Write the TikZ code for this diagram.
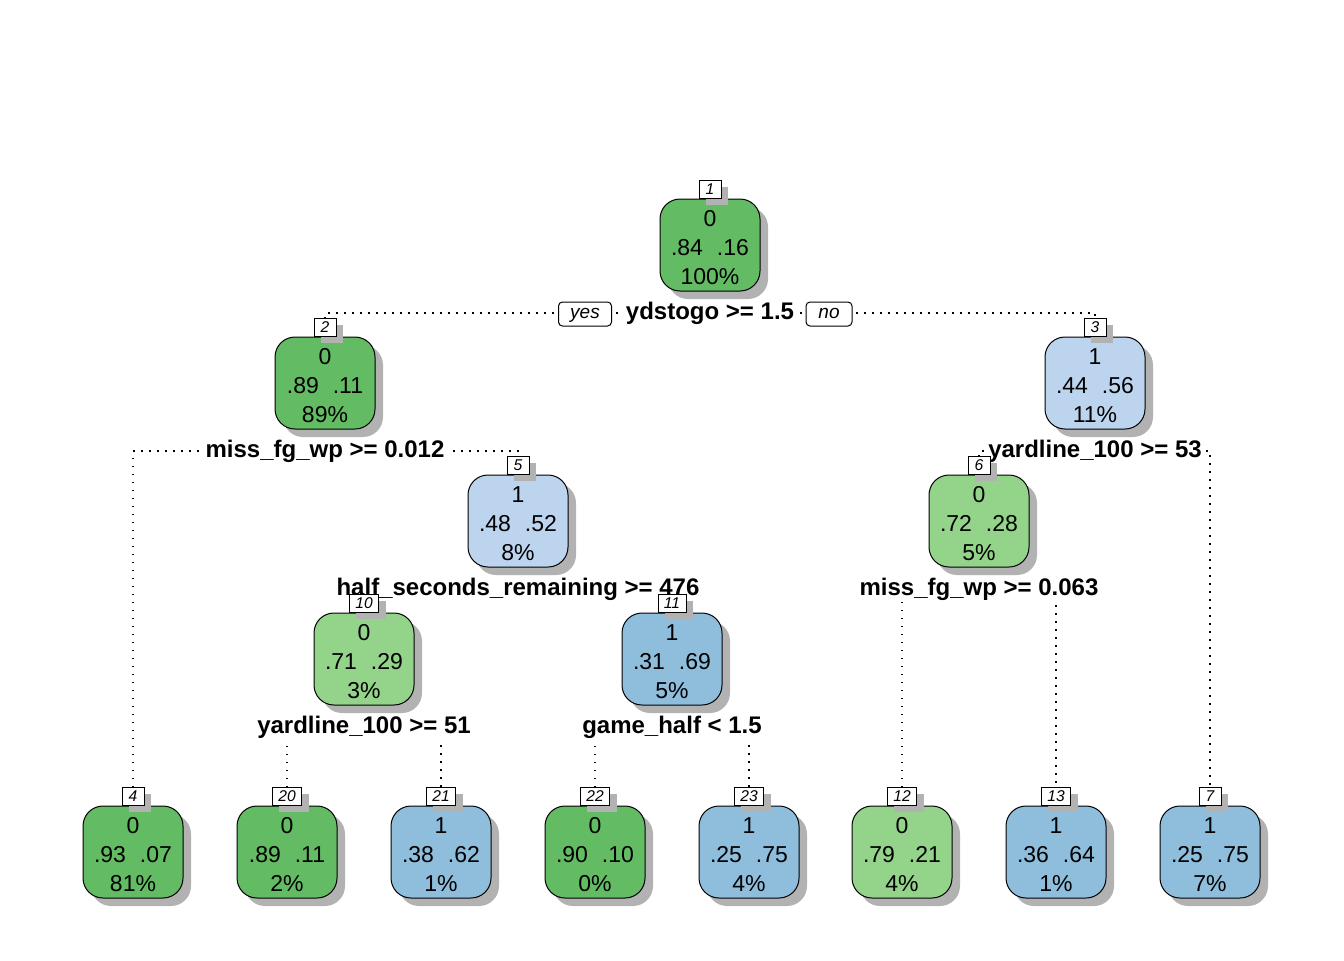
\documentclass[tikz,border=0pt]{standalone}
\usepackage{fontspec}
\setmainfont{Liberation Sans}
\usetikzlibrary{shadows}
\pgfdeclarelayer{bg}
\pgfsetlayers{bg,main}

\definecolor{gdark}{HTML}{63BB63}
\definecolor{glight}{HTML}{93D38A}
\definecolor{blight}{HTML}{BDD4EE}
\definecolor{bmid}{HTML}{8FBEDC}

\tikzset{
  tbox/.style={draw, line width=0.5pt, rounded corners=10pt,
    minimum width=50pt, minimum height=46pt, inner sep=0pt, align=center,
    font=\fontsize{11.5}{14.5}\selectfont,
    drop shadow={shadow xshift=4pt, shadow yshift=-4pt, fill=black!30, opacity=1}},
  numbox/.style={draw, fill=white, line width=0.4pt, inner xsep=3pt, inner ysep=0pt,
    minimum width=11pt, minimum height=9pt,
    font=\fontsize{7.8}{9}\selectfont\itshape,
    drop shadow={shadow xshift=3.5pt, shadow yshift=-3.5pt, fill=black!30, opacity=1}},
  splitlab/.style={fill=white, inner xsep=1.5pt, inner ysep=0.5pt,
    text height=8.8pt, text depth=2.6pt,
    font=\fontsize{12}{13.5}\selectfont\bfseries},
  ynbox/.style={draw, fill=white, rounded corners=2pt, line width=0.5pt,
    minimum height=12pt, inner sep=0pt, text height=6.5pt, text depth=2pt,
    font=\fontsize{9.5}{11}\selectfont\itshape},
  edge/.style={line width=0.6pt, dash pattern=on 0.6pt off 3.4pt}
}

% class, the two class probabilities, and the share of observations
\newcommand{\nodetext}[4]{\rule{0pt}{10.4pt}#1\\#2\hspace{7pt}#3\\#4}

\begin{document}
\begin{tikzpicture}[x=0.5pt, y=-0.5pt]
\useasboundingbox (0,0) rectangle (1344,960);

% split labels
\node[splitlab] (s1)  at (710,313) {ydstogo >= 1.5};
\node[splitlab] (s2)  at (325,451) {miss\_fg\_wp >= 0.012};
\node[splitlab] (s3)  at (1095,451) {yardline\_100 >= 53};
\node[splitlab] (s5)  at (518,589) {half\_seconds\_remaining >= 476};
\node[splitlab] (s6)  at (979,589) {miss\_fg\_wp >= 0.063};
\node[splitlab] (s10) at (364,727) {yardline\_100 >= 51};
\node[splitlab] (s11) at (672,727) {game\_half < 1.5};

% yes / no tags on the root split
\node[ynbox, minimum width=26.5pt] (yes) at (585,314) {yes};
\node[ynbox, minimum width=23pt]   (no)  at (829,314) {no};

% tree nodes
\node[tbox, fill=gdark]  (n1)  at (710,245) {\nodetext{0}{.84}{.16}{100\%}};
\node[tbox, fill=gdark]  (n2)  at (325,383) {\nodetext{0}{.89}{.11}{89\%}};
\node[tbox, fill=blight] (n3)  at (1095,383) {\nodetext{1}{.44}{.56}{11\%}};
\node[tbox, fill=blight] (n5)  at (518,521) {\nodetext{1}{.48}{.52}{8\%}};
\node[tbox, fill=glight] (n6)  at (979,521) {\nodetext{0}{.72}{.28}{5\%}};
\node[tbox, fill=glight] (n10) at (364,659) {\nodetext{0}{.71}{.29}{3\%}};
\node[tbox, fill=bmid]   (n11) at (672,659) {\nodetext{1}{.31}{.69}{5\%}};
\node[tbox, fill=gdark]  (n4)  at (133,852) {\nodetext{0}{.93}{.07}{81\%}};
\node[tbox, fill=gdark]  (n20) at (287,852) {\nodetext{0}{.89}{.11}{2\%}};
\node[tbox, fill=bmid]   (n21) at (441,852) {\nodetext{1}{.38}{.62}{1\%}};
\node[tbox, fill=gdark]  (n22) at (595,852) {\nodetext{0}{.90}{.10}{0\%}};
\node[tbox, fill=bmid]   (n23) at (749,852) {\nodetext{1}{.25}{.75}{4\%}};
\node[tbox, fill=glight] (n12) at (902,852) {\nodetext{0}{.79}{.21}{4\%}};
\node[tbox, fill=bmid]   (n13) at (1056,852) {\nodetext{1}{.36}{.64}{1\%}};
\node[tbox, fill=bmid]   (n7)  at (1210,852) {\nodetext{1}{.25}{.75}{7\%}};

% node numbers
\foreach \n in {1,2,3,4,5,6,7,10,11,12,13,20,21,22,23}
  \node[numbox, anchor=south] (n\n num) at (n\n.north) {\n};

% connectors
\begin{pgfonlayer}{bg}
\draw[edge] (n2num.north) -- (n2num.north |- s1.center) -- (n3num.north |- s1.center) -- (n3num.north);
\draw[edge] (n4num.north) -- (n4num.north |- s2.center) -- (n5num.north |- s2.center) -- (n5num.north);
\draw[edge] (n6num.north) -- (n6num.north |- s3.center) -- (n7num.north |- s3.center) -- (n7num.north);
\draw[edge] (n10num.north) -- (n10num.north |- s5.center) -- (n11num.north |- s5.center) -- (n11num.north);
\draw[edge] (n12num.north) -- (n12num.north |- s6.center) -- (n13num.north |- s6.center) -- (n13num.north);
\draw[edge] (n20num.north) -- (n20num.north |- s10.center) -- (n21num.north |- s10.center) -- (n21num.north);
\draw[edge] (n22num.north) -- (n22num.north |- s11.center) -- (n23num.north |- s11.center) -- (n23num.north);
\end{pgfonlayer}
\end{tikzpicture}
\end{document}
